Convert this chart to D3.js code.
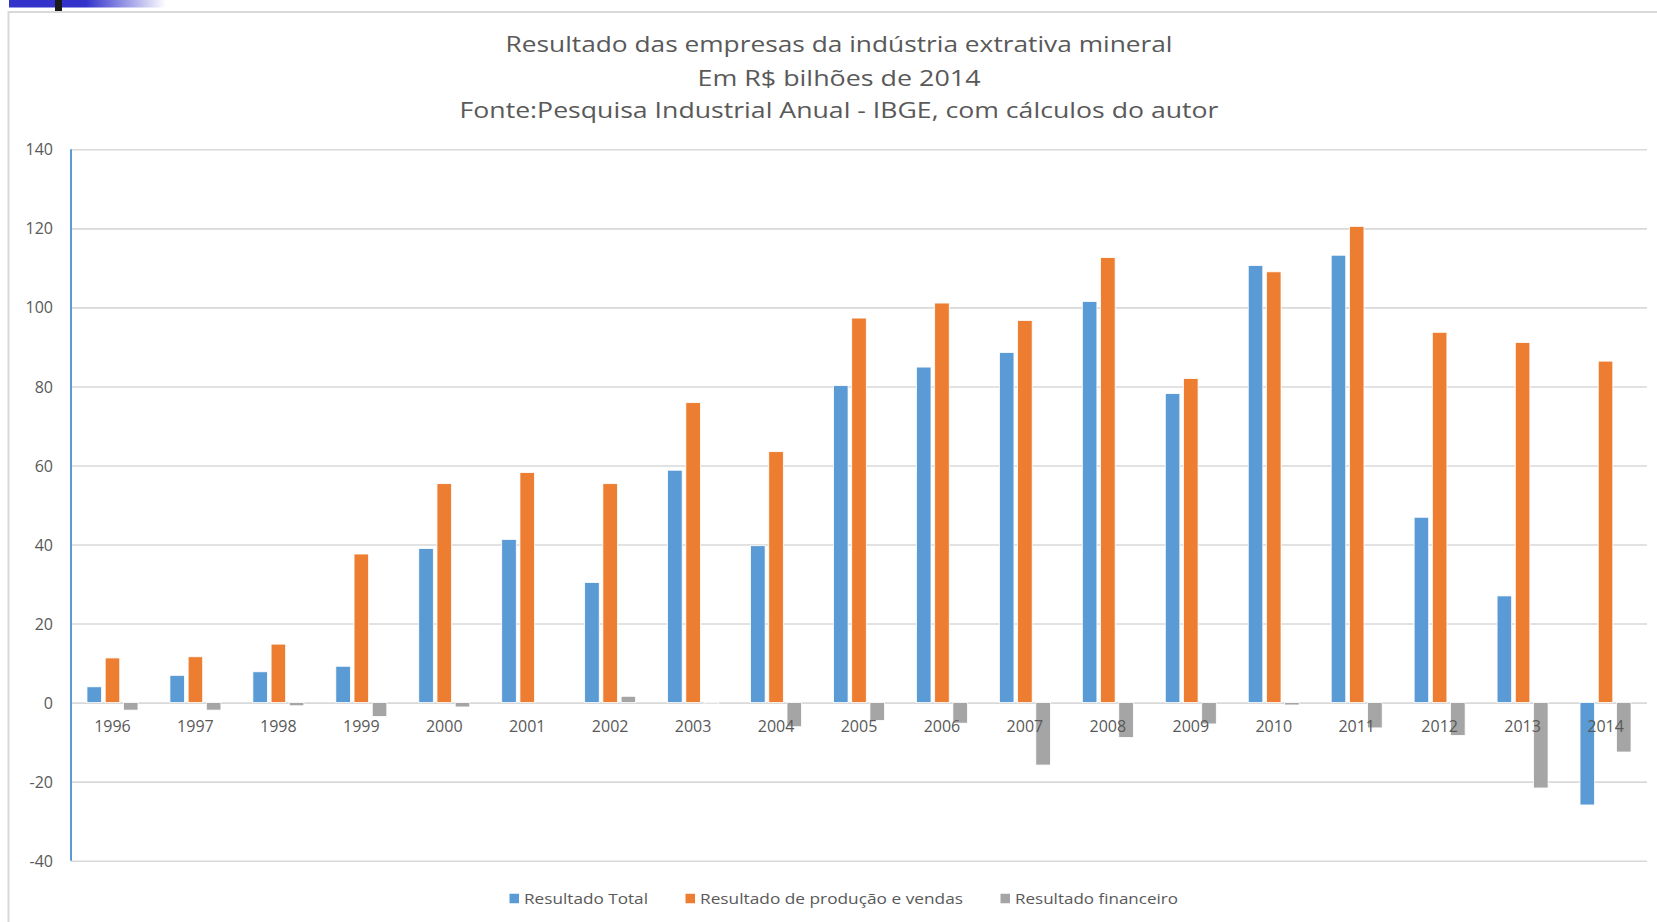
<!DOCTYPE html>
<html>
<head>
<meta charset="utf-8">
<script src="https://cdn.jsdelivr.net/npm/d3@7"></script>
<style>
  html, body { margin: 0; padding: 0; background: #ffffff; }
  svg { display: block; }
  text { font-family: "Open Sans", "Noto Sans", sans-serif; }
</style>
</head>
<body>
<svg id="chart" width="1657" height="922"></svg>
<script>
// ---------------- DATA ----------------
const years = ["1996","1997","1998","1999","2000","2001","2002","2003","2004","2005",
               "2006","2007","2008","2009","2010","2011","2012","2013","2014"];
const seriesNames = ["Resultado Total", "Resultado de produção e vendas", "Resultado financeiro"];
const resultadoTotal      = [4.0, 6.9, 7.8, 9.2, 39.0, 41.3, 30.4, 58.8, 39.7, 80.2,
                             84.9, 88.6, 101.5, 78.2, 110.6, 113.2, 46.9, 27.0, -25.9];
const resultadoProducao   = [11.3, 11.6, 14.8, 37.6, 55.4, 58.2, 55.4, 75.9, 63.5, 97.3,
                             101.1, 96.7, 112.6, 82.0, 109.0, 120.5, 93.7, 91.1, 86.4];
const resultadoFinanceiro = [-1.9, -1.9, -0.8, -3.5, -1.1, 0.0, 1.6, -0.3, -6.1, -4.5,
                             -5.2, -15.8, -8.8, -5.4, -0.6, -6.4, -8.3, -21.6, -12.5];
const yTicks = [-40, -20, 0, 20, 40, 60, 80, 100, 120, 140];
const titleLines = [
  "Resultado das empresas da indústria extrativa mineral",
  "Em R$ bilhões de 2014",
  "Fonte:Pesquisa Industrial Anual - IBGE, com cálculos do autor"
];

// ---------------- STYLE / LAYOUT ----------------
const colors = ["#5B9BD5", "#ED7D31", "#A5A5A5"];
const seriesValues = [resultadoTotal, resultadoProducao, resultadoFinanceiro];
const plot = { left: 71, right: 1647, top: 149.3, bottom: 860.7 };

const svg = d3.select("#chart");

// slide decoration (top-left)
const defs = svg.append("defs");
const grad = defs.append("linearGradient").attr("id", "fadeBlue")
  .attr("x1", "0").attr("x2", "1").attr("y1", "0").attr("y2", "0");
grad.append("stop").attr("offset", "0").attr("stop-color", "#3333CC");
grad.append("stop").attr("offset", "1").attr("stop-color", "#ffffff");
svg.append("rect").attr("x", 9).attr("y", 0).attr("width", 77).attr("height", 7.5).attr("fill", "#3333CC");
svg.append("rect").attr("x", 86).attr("y", 0).attr("width", 80).attr("height", 7.5).attr("fill", "url(#fadeBlue)");
svg.append("rect").attr("x", 55).attr("y", 0).attr("width", 7).attr("height", 11).attr("fill", "#1a1a1a");

// chart border
svg.append("rect").attr("x", 8.5).attr("y", 12).attr("width", 1700).attr("height", 1000)
  .attr("fill", "none").attr("stroke", "#D9D9D9").attr("stroke-width", 2);

// title
const titleCenter = 839;
const titleBaselines = [51.7, 85.5, 118.3];
const titleWidths = [667, 283, 759];
svg.append("g").selectAll("text").data(titleLines).join("text")
  .attr("x", titleCenter)
  .attr("y", (d, i) => titleBaselines[i])
  .attr("text-anchor", "middle")
  .attr("font-size", 21)
  .attr("fill", "#595959")
  .attr("textLength", (d, i) => titleWidths[i])
  .attr("lengthAdjust", "spacingAndGlyphs")
  .text(d => d);

// scales
const x0 = d3.scaleBand().domain(years).range([plot.left, plot.right]).padding(0);
const groupWidth = 51;
const x1 = d3.scaleBand().domain(seriesNames).range([0, groupWidth]).paddingInner(0.2);
const groupOffset = (x0.bandwidth() - groupWidth) / 2;
const y = d3.scaleLinear().domain([-40, 140]).range([plot.bottom, plot.top]);

// gridlines
const yAxisGrid = d3.axisLeft(y).tickValues(yTicks).tickSize(-(plot.right - plot.left)).tickFormat("");
const grid = svg.append("g").attr("transform", `translate(${plot.left},0)`).call(yAxisGrid);
grid.select(".domain").remove();
grid.selectAll(".tick line").attr("stroke", "#D9D9D9").attr("stroke-width", 1.6);

// y labels (plain hyphen for negatives, as in the reference)
const yAxis = d3.axisLeft(y).tickValues(yTicks).tickSize(0).tickPadding(0).tickFormat(d => String(d));
const yg = svg.append("g").attr("transform", `translate(53,0)`).call(yAxis);
yg.select(".domain").remove();
yg.selectAll(".tick text")
  .attr("font-family", "'Open Sans', 'Noto Sans', sans-serif")
  .attr("font-size", 16).attr("fill", "#595959").attr("dy", "0.35em");

// bars
const rows = [];
years.forEach((yr, i) => {
  seriesNames.forEach((s, j) => rows.push({ year: yr, series: s, value: seriesValues[j][i], color: colors[j] }));
});
svg.append("g").selectAll("rect").data(rows.filter(d => d.value !== 0)).join("rect")
  .attr("x", d => x0(d.year) + groupOffset + x1(d.series))
  .attr("width", x1.bandwidth())
  .attr("y", d => y(Math.max(0, d.value)))
  .attr("height", d => Math.abs(y(d.value) - y(0)))
  .attr("fill", d => d.color)
  .attr("stroke", "#ffffff").attr("stroke-width", 0.8);

// y axis line (blue)
svg.append("line")
  .attr("x1", plot.left).attr("x2", plot.left)
  .attr("y1", y(140)).attr("y2", y(-40))
  .attr("stroke", "#5B9BD5").attr("stroke-width", 2);

// x labels (below zero line)
const xAxis = d3.axisBottom(x0).tickSize(0).tickPadding(0);
const xg = svg.append("g").attr("transform", `translate(0,${y(0)})`).call(xAxis);
xg.select(".domain").remove();
xg.selectAll(".tick text")
  .attr("font-family", "'Open Sans', 'Noto Sans', sans-serif")
  .attr("font-size", 16).attr("fill", "#595959")
  .attr("y", 24).attr("dy", "0.35em");

// legend
const legendX = [509.5, 685.5, 1000.5];
const legendTextW = [124, 263, 163];
const legendY = 898.5;
const lg = svg.append("g").selectAll("g").data(seriesNames).join("g")
  .attr("transform", (d, i) => `translate(${legendX[i]},${legendY})`);
lg.append("rect").attr("x", 0).attr("y", -4.75).attr("width", 9.5).attr("height", 9.5)
  .attr("fill", (d, i) => colors[i]);
lg.append("text").attr("x", 14.5).attr("y", 0).attr("dy", "0.35em")
  .attr("font-size", 15).attr("fill", "#595959")
  .attr("textLength", (d, i) => legendTextW[i]).attr("lengthAdjust", "spacingAndGlyphs")
  .text(d => d);
</script>
</body>
</html>
